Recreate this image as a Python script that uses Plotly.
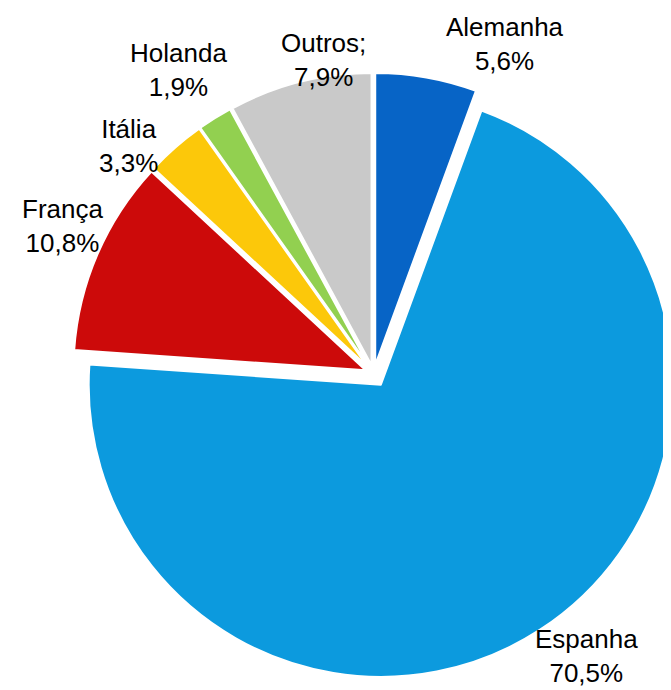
import plotly.graph_objects as go

# fatia de cada país (%)
paises = ["Alemanha", "Espanha", "França", "Itália", "Holanda", "Outros"]
valores = [5.6, 70.5, 10.8, 3.3, 1.9, 7.9]
rotulos = ["Alemanha<br>5,6%", "Espanha<br>70,5%", "França<br>10,8%",
           "Itália<br>3,3%", "Holanda<br>1,9%", "Outros;<br>7,9%"]

cores = ["#0764c6", "#0c9ade", "#cc0a0a", "#fcc80a", "#92d050", "#c9c9c9"]
destaque = [0.03, 0.045, 0.03, 0.03, 0.03, 0.03]

# posição dos rótulos em pixels (centro do bloco de texto)
pos_rotulos = [(497, 36), (578, 648), (55, 218), (120, 138), (170, 62), (315, 52)]

W, H = 671, 690

fig = go.Figure(
    go.Pie(
        labels=paises,
        values=valores,
        sort=False,
        direction="clockwise",
        rotation=0,
        pull=destaque,
        marker=dict(colors=cores, line=dict(color="white", width=2)),
        textinfo="none",
        hoverinfo="label+percent",
        domain=dict(x=[0.09, 1.0], y=[0.02, 0.92]),
    )
)

for txt, (px_, py_) in zip(rotulos, pos_rotulos):
    fig.add_annotation(
        x=px_ / W, y=1 - py_ / H, xref="paper", yref="paper",
        xanchor="center", yanchor="middle",
        text=txt, showarrow=False, align="center",
        font=dict(family="Liberation Sans", size=26, color="black"),
    )

fig.update_layout(
    width=W, height=H,
    margin=dict(l=0, r=0, t=0, b=0),
    showlegend=False,
    paper_bgcolor="white",
    plot_bgcolor="white",
)

fig.write_html("out.html")
